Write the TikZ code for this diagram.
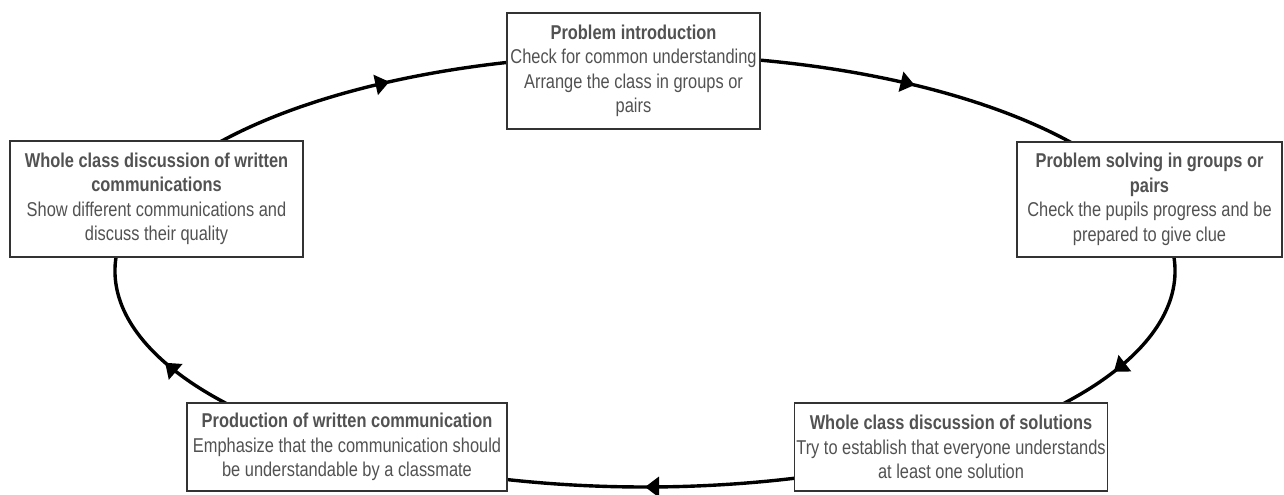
\documentclass[tikz,border=0pt]{standalone}
\usepackage{fontspec}
\setmainfont[FakeStretch=0.82]{Liberation Sans}
\usetikzlibrary{positioning}
\usetikzlibrary{arrows.meta, decorations.markings, backgrounds}

\tikzset{
  stage/.style={draw=black!80, line width=0.7pt, fill=white, text=black!68,
    align=center, inner xsep=1pt, inner ysep=2pt,
    font=\fontsize{10}{12.25}\selectfont},
  flow/.style={line width=1.7pt, postaction={decorate},
    decoration={markings, mark=at position 0.5 with {\arrow{Triangle[length=7pt, width=10pt]}}}}
}

\begin{document}
\begin{tikzpicture}[x=0.5pt, y=0.5pt]
    \useasboundingbox (0,0) rectangle (1284,494);
    % Etapas del ciclo
    \node[stage, minimum width=126.5pt, minimum height=58pt] (intro) at (633.5,423) {\textbf{Problem introduction}\\Check for common understanding\\Arrange the class in groups or\\pairs};
    \node[stage, minimum width=132.5pt, minimum height=57.5pt] (solving) at (1149.5,294.5) {\textbf{Problem solving in groups or}\\\textbf{pairs}\\Check the pupils progress and be\\prepared to give clue};
    \node[stage, minimum width=156pt, minimum height=44pt] (solutions) at (951,47) {\textbf{Whole class discussion of solutions}\\Try to establish that everyone understands\\at least one solution};
    \node[stage, minimum width=160pt, minimum height=44pt] (production) at (347,47) {\textbf{Production of written communication}\\Emphasize that the communication should\\be understandable by a classmate};
    \node[stage, minimum width=146.5pt, minimum height=58pt] (written) at (156.5,295) {\textbf{Whole class discussion of written}\\\textbf{communications}\\Show different communications and\\discuss their quality};
    % Puntos de la elipse bajo cada etapa
    \coordinate (c) at (645,223);
    \path (c) ++(90:530 and 216) coordinate (e1);
    \path (c) ++(17:530 and 216) coordinate (e2);
    \path (c) ++(-56:530 and 216) coordinate (e3);
    \path (c) ++(-124:530 and 216) coordinate (e4);
    \path (c) ++(157:530 and 216) coordinate (e5);
    % Ciclo (sentido horario)
    \begin{scope}[on background layer]
    \draw[flow] (e1) arc[start angle=90, end angle=17, x radius=265pt, y radius=108pt];
    \draw[flow] (e2) arc[start angle=17, end angle=-56, x radius=265pt, y radius=108pt];
    \draw[flow] (e3) arc[start angle=-56, end angle=-124, x radius=265pt, y radius=108pt];
    \draw[flow] (e4) arc[start angle=236, end angle=157, x radius=265pt, y radius=108pt];
    \draw[flow] (e5) arc[start angle=157, end angle=90, x radius=265pt, y radius=108pt];
    \end{scope}
\end{tikzpicture}
\end{document}
